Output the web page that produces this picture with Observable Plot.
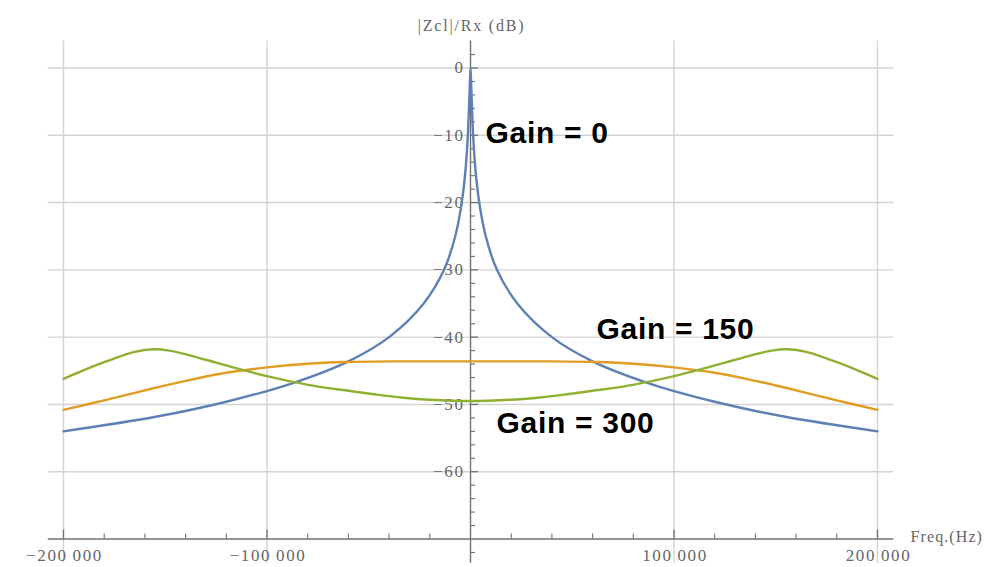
<!DOCTYPE html>
<html><head><meta charset="utf-8">
<script src="https://cdn.jsdelivr.net/npm/d3@7"></script>
<script src="https://cdn.jsdelivr.net/npm/@observablehq/plot@0.6"></script>
<style>body{margin:0;background:#fff;overflow:hidden;} #chart svg{display:block;}</style>
</head><body><div id="chart"></div>
<script>
// ---- data (Hz, dB) ----
const freqGain0 = [-200000,-154000,-120000,-88000,-60000,-40000,-23000,-13000,-7500,-4300,-2400,-1300,-500,0,500,1300,2400,4300,7500,13000,23000,40000,60000,88000,120000,154000,200000];
const dbGain0   = [-54.0,-51.8,-49.6,-46.9,-43.6,-40.0,-35.0,-30.0,-25.0,-20.0,-15.0,-10.0,-4.0,0,-4.0,-10.0,-15.0,-20.0,-25.0,-30.0,-35.0,-40.0,-43.6,-46.9,-49.6,-51.8,-54.0];

const freqGain150 = [-200000,-180000,-160000,-140000,-120000,-100000,-80000,-62000,-40000,0,40000,62000,80000,100000,120000,140000,160000,180000,200000];
const dbGain150   = [-50.8,-49.4,-47.9,-46.5,-45.3,-44.5,-43.95,-43.7,-43.6,-43.6,-43.6,-43.7,-43.95,-44.5,-45.3,-46.5,-47.9,-49.4,-50.8];

const freqGain300 = [-200000,-190000,-178000,-165000,-156000,-148000,-138000,-125000,-113000,-100000,-88000,-75000,-59000,-46000,-33000,-20000,0,20000,33000,46000,59000,75000,88000,100000,113000,125000,138000,148000,156000,165000,178000,190000,200000];
const dbGain300   = [-46.2,-44.9,-43.5,-42.2,-41.8,-42.0,-42.7,-43.8,-44.8,-45.8,-46.6,-47.35,-48.0,-48.55,-49.0,-49.3,-49.5,-49.3,-49.0,-48.55,-48.0,-47.35,-46.6,-45.8,-44.8,-43.8,-42.7,-42.0,-41.8,-42.2,-43.5,-44.9,-46.2];

const seriesNames  = ["Gain = 0", "Gain = 150", "Gain = 300"];
const seriesColors = ["#5E81B5", "#E19C24", "#8FB032"];

const yTicks = [0, -10, -20, -30, -40, -50, -60];
const yTickLabels = ["0", "\u221210", "\u221220", "\u221230", "\u221240", "\u221250", "\u221260"];
const yMinorTicks = [2,-2,-4,-6,-8,-12,-14,-16,-18,-22,-24,-26,-28,-32,-34,-36,-38,-42,-44,-46,-48,-52,-54,-56,-58,-62,-64,-66,-68,-72];
const xTicks = [-200000, -100000, 100000, 200000];
const xTickLabels = ["\u2212200\u2009000", "\u2212100\u2009000", "100\u2009000", "200\u2009000"];
const xMinorTicks = [-180000,-160000,-140000,-120000,-80000,-60000,-40000,-20000,20000,40000,60000,80000,120000,140000,160000,180000];
const yTitle = "|Zcl|/Rx (dB)";
const xTitle = "Freq.(Hz)";

// plot-range extents (data units)
const xExtent = [-207500, 208000];
const yExtent = [4, -73.6];
const xAxisY = -70;

const annoText = ["Gain = 0", "Gain = 150", "Gain = 300"];
const annoX = [7400, 61900, 12800];
const annoY = [-9.76, -38.9, -52.85];

// ---- build tables ----
const rows = [];
[[freqGain0, dbGain0], [freqGain150, dbGain150], [freqGain300, dbGain300]].forEach(([fs, ds], k) => {
  fs.forEach((f, i) => rows.push({series: seriesNames[k], f, db: ds[i]}));
});
const yTickRows = yTicks.map((v, i) => ({v, label: yTickLabels[i]}));
const xTickRows = xTicks.map((v, i) => ({v, label: xTickLabels[i]}));
const annoRows = annoText.map((t, i) => ({t, x: annoX[i], y: annoY[i]}));

const serif = "'Liberation Serif', 'Times New Roman', serif";
const axisColor = "#707070";
const gridColor = "#d3d3d3";
const labelColor = "#666666";

const chart = Plot.plot({
  width: 989, height: 567,
  marginLeft: 63, marginRight: 112, marginTop: 67.5, marginBottom: 28.5,
  x: {domain: [-200000, 200000], axis: null},
  y: {domain: [-70, 0], axis: null},
  color: {domain: seriesNames, range: seriesColors},
  style: {background: "white", overflow: "visible"},
  marks: [
    // grid
    Plot.ruleY(yTicks, {y: d => d, x1: xExtent[0], x2: xExtent[1], stroke: gridColor, strokeWidth: 1.4}),
    Plot.ruleX(xTicks, {x: d => d, y1: yExtent[0], y2: yExtent[1], stroke: gridColor, strokeWidth: 1.4}),
    // axes lines
    Plot.ruleY([xAxisY], {y: d => d, x1: xExtent[0], x2: xExtent[1], stroke: axisColor, strokeWidth: 1.4}),
    Plot.ruleX([0], {x: d => d, y1: yExtent[0], y2: yExtent[1], stroke: axisColor, strokeWidth: 1.4}),
    // y ticks (pointing right)
    Plot.ruleY(yTicks, {y: d => d, x1: 0, x2: 0, insetRight: -8, stroke: axisColor, strokeWidth: 1.3}),
    Plot.ruleY(yMinorTicks, {y: d => d, x1: 0, x2: 0, insetRight: -5, stroke: axisColor, strokeWidth: 1.1}),
    // x ticks (pointing up)
    Plot.ruleX(xTicks, {x: d => d, y1: xAxisY, y2: xAxisY, insetTop: -9, stroke: axisColor, strokeWidth: 1.3}),
    Plot.ruleX(xMinorTicks, {x: d => d, y1: xAxisY, y2: xAxisY, insetTop: -5, stroke: axisColor, strokeWidth: 1.1}),
    // tick labels
    Plot.text(yTickRows, {x: 0, y: "v", text: "label", textAnchor: "end", dx: -6, fill: labelColor,
      fontFamily: serif, fontSize: 17}),
    Plot.text(xTickRows, {x: "v", y: xAxisY, text: "label", dy: 17, dx: 1, fill: labelColor,
      fontFamily: serif, fontSize: 17}),
    // axis titles
    Plot.text([yTitle], {frameAnchor: "top", dy: -48, dx: 1, fill: labelColor, fontFamily: serif, fontSize: 16}),
    Plot.text([xTitle], {x: xTicks[xTicks.length - 1], y: xAxisY, dx: 33, dy: -2, textAnchor: "start", fill: labelColor,
      fontFamily: serif, fontSize: 16}),
    // curves
    Plot.line(rows, {x: "f", y: "db", z: "series", stroke: "series", strokeWidth: 2.4, curve: "catmull-rom"}),
    // annotations
    Plot.text(annoRows, {x: "x", y: "y", text: "t", textAnchor: "start", fill: "black",
      fontFamily: "'Liberation Sans', Arial, sans-serif", fontWeight: "bold", fontSize: 30})
  ]
});
document.getElementById("chart").appendChild(chart);
// letter spacing to mimic the wide rendering of the original
const spacing = new Map();
yTickLabels.forEach(t => spacing.set(t, "1.6px"));
xTickLabels.forEach(t => spacing.set(t, "1.6px"));
spacing.set(yTitle, "1.8px");
spacing.set(xTitle, "1.1px");
annoText.forEach(t => spacing.set(t, "0.7px"));
chart.querySelectorAll("text").forEach(el => {
  const s = spacing.get(el.textContent);
  if (s) el.style.letterSpacing = s;
});
</script>
</body></html>
